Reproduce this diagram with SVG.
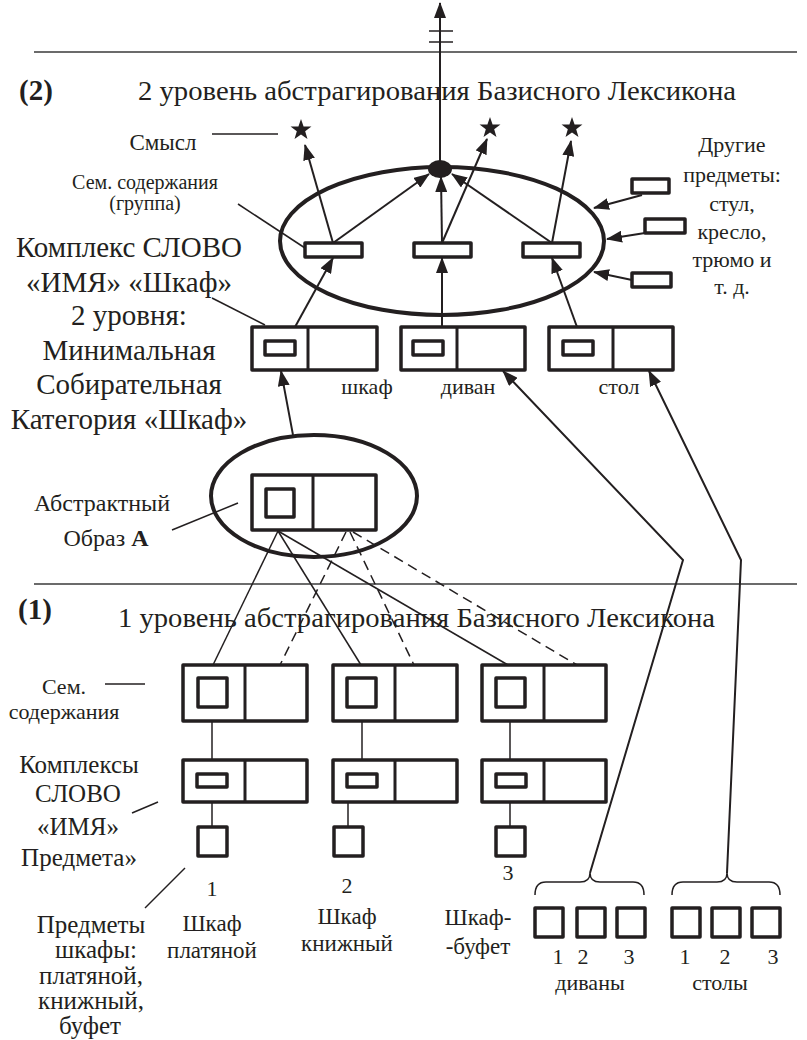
<svg xmlns="http://www.w3.org/2000/svg" width="807" height="1040" viewBox="0 0 807 1040">
<style>
text{font-family:"Liberation Serif","Times New Roman",serif;fill:#231f20}
.b{font-weight:bold}
.box{fill:#fff;stroke:#231f20;stroke-width:3.5;stroke-linejoin:round}
.sep{stroke:#231f20;stroke-width:3}
.ell{fill:none;stroke:#231f20;stroke-width:4}
.arr{fill:none;stroke:#231f20;stroke-width:2;marker-end:url(#ah)}
.thin{fill:none;stroke:#231f20;stroke-width:1.5}
.dash{fill:none;stroke:#231f20;stroke-width:1.5;stroke-dasharray:10 6}
.rule{stroke:#3a3a3a;stroke-width:1.3}
.mid{text-anchor:middle}
</style>
<defs>
<marker id="ah" markerUnits="userSpaceOnUse" markerWidth="16" markerHeight="12" refX="15" refY="6" orient="auto"><path d="M0,0 L16,6 L0,12 Z" fill="#231f20"/></marker>
<path id="star" d="M0,-11 L2.59,-3.56 L10.46,-3.4 L4.18,1.36 L6.47,8.9 L0,4.4 L-6.47,8.9 L-4.18,1.36 L-10.46,-3.4 L-2.59,-3.56 Z" fill="#231f20"/>
</defs>
<rect width="807" height="1040" fill="#fff"/>

<g id="rules">
<line class="rule" x1="34" y1="52" x2="797" y2="52"/>
<line class="rule" x1="34" y1="584" x2="797" y2="584"/>
<line x1="429" y1="31" x2="453" y2="31" stroke="#231f20" stroke-width="1.5"/>
<line x1="429" y1="42" x2="453" y2="42" stroke="#231f20" stroke-width="1.5"/>
</g>

<g id="titles">
<text class="b" x="19" y="100" font-size="29">(2)</text>
<text x="138" y="100" font-size="28" textLength="598" lengthAdjust="spacingAndGlyphs">2 уровень абстрагирования Базисного Лексикона</text>
<text class="b" x="18" y="619" font-size="29">(1)</text>
<text x="118" y="627" font-size="28" textLength="597" lengthAdjust="spacingAndGlyphs">1 уровень абстрагирования Базисного Лексикона</text>
</g>

<g id="level2-ellipse">
<ellipse class="ell" cx="442" cy="241" rx="162" ry="74"/>
<ellipse cx="440" cy="169" rx="12" ry="9" fill="#231f20"/>
<rect class="box" x="305" y="243" width="57" height="14"/>
<rect class="box" x="414" y="243" width="57" height="14"/>
<rect class="box" x="523" y="243" width="57" height="14"/>
</g>

<g id="stars">
<use href="#star" x="301" y="130"/>
<use href="#star" x="490" y="128"/>
<use href="#star" x="572" y="128"/>
</g>

<g id="other-objects">
<rect class="box" x="632" y="179" width="37" height="14"/>
<rect class="box" x="645" y="219" width="40" height="14"/>
<rect class="box" x="632" y="273" width="39" height="14"/>
<text class="mid" x="732" y="152" font-size="22">Другие</text>
<text class="mid" x="732" y="182" font-size="22">предметы:</text>
<text class="mid" x="732" y="211" font-size="22">стул,</text>
<text class="mid" x="732" y="239" font-size="22">кресло,</text>
<text class="mid" x="732" y="267" font-size="22">трюмо и</text>
<text class="mid" x="732" y="294" font-size="22">т. д.</text>
</g>

<g id="level2-boxes">
<rect class="box" x="252" y="327" width="125" height="43"/>
<line class="sep" x1="308" y1="327" x2="308" y2="370"/>
<rect class="box" x="265" y="341" width="30" height="14"/>
<rect class="box" x="401" y="327" width="124" height="43"/>
<line class="sep" x1="457" y1="327" x2="457" y2="370"/>
<rect class="box" x="413" y="341" width="30" height="14"/>
<rect class="box" x="549" y="327" width="124" height="43"/>
<line class="sep" x1="613" y1="327" x2="613" y2="370"/>
<rect class="box" x="563" y="341" width="30" height="14"/>
<text class="mid" x="367" y="394" font-size="22">шкаф</text>
<text class="mid" x="468" y="394" font-size="22">диван</text>
<text class="mid" x="619" y="394" font-size="22">стол</text>
</g>

<g id="abstract-image">
<ellipse class="ell" cx="314" cy="496" rx="103" ry="61"/>
<rect class="box" x="252" y="475" width="124" height="55"/>
<line class="sep" x1="313" y1="475" x2="313" y2="530"/>
<rect class="box" x="266" y="489" width="28" height="28"/>
</g>

<g id="level1-boxes">
<rect class="box" x="183" y="665" width="124" height="56"/>
<line class="sep" x1="245" y1="665" x2="245" y2="721"/>
<rect class="box" x="198" y="678" width="29" height="29"/>
<rect class="box" x="333" y="665" width="124" height="56"/>
<line class="sep" x1="395" y1="665" x2="395" y2="721"/>
<rect class="box" x="347" y="678" width="29" height="29"/>
<rect class="box" x="482" y="665" width="124" height="56"/>
<line class="sep" x1="544" y1="665" x2="544" y2="721"/>
<rect class="box" x="496" y="678" width="29" height="29"/>

<rect class="box" x="183" y="760" width="124" height="42"/>
<line class="sep" x1="245" y1="760" x2="245" y2="802"/>
<rect class="box" x="197" y="774" width="30" height="13"/>
<rect class="box" x="333" y="760" width="124" height="42"/>
<line class="sep" x1="395" y1="760" x2="395" y2="802"/>
<rect class="box" x="347" y="774" width="30" height="13"/>
<rect class="box" x="482" y="760" width="124" height="42"/>
<line class="sep" x1="544" y1="760" x2="544" y2="802"/>
<rect class="box" x="496" y="774" width="30" height="13"/>

<rect class="box" x="198" y="827" width="29" height="29"/>
<rect class="box" x="334" y="827" width="29" height="29"/>
<rect class="box" x="496" y="827" width="29" height="29"/>
</g>

<g id="object-groups">
<rect class="box" x="535" y="908" width="28" height="29"/>
<rect class="box" x="577" y="908" width="28" height="29"/>
<rect class="box" x="617" y="908" width="28" height="29"/>
<rect class="box" x="672" y="908" width="28" height="29"/>
<rect class="box" x="712" y="908" width="28" height="29"/>
<rect class="box" x="752" y="908" width="28" height="29"/>
<path class="thin" d="M535,895 Q535,882 546,882 L580,882 Q590,882 590,873 Q590,882 600,882 L633,882 Q644,882 644,895"/>
<path class="thin" d="M672,895 Q672,882 683,882 L717,882 Q727,882 727,873 Q727,882 737,882 L769,882 Q780,882 780,895"/>
</g>

<g id="connectors">
<line class="arr" x1="440" y1="162" x2="440" y2="3"/>
<line class="arr" x1="333" y1="243" x2="305" y2="145"/>
<line class="arr" x1="333" y1="243" x2="429" y2="174"/>
<line class="arr" x1="442" y1="243" x2="441" y2="177"/>
<line class="arr" x1="442" y1="243" x2="487" y2="139"/>
<line class="arr" x1="552" y1="243" x2="452" y2="174"/>
<line class="arr" x1="552" y1="243" x2="571" y2="141"/>
<line class="arr" x1="295" y1="327" x2="333" y2="258"/>
<line class="arr" x1="442" y1="327" x2="442" y2="258"/>
<line class="arr" x1="577" y1="327" x2="552" y2="258"/>
<line class="arr" x1="293" y1="435" x2="281" y2="371"/>
<line class="arr" x1="642" y1="195" x2="594" y2="208"/>
<line class="arr" x1="645" y1="233" x2="607" y2="239"/>
<line class="arr" x1="632" y1="280" x2="594" y2="272"/>
<path class="arr" d="M590,873 L683,560 L503,371"/>
<path class="arr" d="M727,873 L741,560 L649,371"/>
<line class="thin" x1="278" y1="531" x2="213" y2="665"/>
<line class="thin" x1="278" y1="531" x2="361" y2="665"/>
<line class="thin" x1="278" y1="531" x2="508" y2="665"/>
<line class="dash" x1="346" y1="532" x2="280" y2="665"/>
<line class="dash" x1="350" y1="532" x2="414" y2="665"/>
<line class="dash" x1="353" y1="532" x2="577" y2="665"/>
<line class="thin" x1="212" y1="721" x2="212" y2="760"/>
<line class="thin" x1="362" y1="721" x2="362" y2="760"/>
<line class="thin" x1="510" y1="721" x2="510" y2="760"/>
<line class="thin" x1="212" y1="802" x2="212" y2="827"/>
<line class="thin" x1="348" y1="802" x2="348" y2="827"/>
<line class="thin" x1="510" y1="802" x2="510" y2="827"/>
<line class="thin" x1="212" y1="134" x2="278" y2="134"/>
<line class="thin" x1="238" y1="204" x2="305" y2="248"/>
<line class="thin" x1="212" y1="298" x2="265" y2="325"/>
<line class="thin" x1="172" y1="530" x2="238" y2="503"/>
<line class="thin" x1="105" y1="684" x2="145" y2="684"/>
<line class="thin" x1="132" y1="813" x2="158" y2="802"/>
<line class="thin" x1="145" y1="908" x2="185" y2="868"/>
</g>

<g id="labels-left">
<text class="mid" x="163" y="150" font-size="23">Смысл</text>
<text class="mid" x="145" y="189" font-size="20">Сем. содержания</text>
<text class="mid" x="145" y="210" font-size="20">(группа)</text>
<text class="mid" x="129" y="257" font-size="29">Комплекс СЛОВО</text>
<text class="mid" x="129" y="292" font-size="29">«ИМЯ» «Шкаф»</text>
<text class="mid" x="129" y="325" font-size="29">2 уровня:</text>
<text class="mid" x="129" y="360" font-size="29">Минимальная</text>
<text class="mid" x="129" y="394" font-size="29">Собирательная</text>
<text class="mid" x="129" y="429" font-size="29">Категория «Шкаф»</text>
<text class="mid" x="102" y="511" font-size="24">Абстрактный</text>
<text class="mid" x="106" y="546" font-size="24">Образ <tspan class="b">А</tspan></text>
<text class="mid" x="64" y="694" font-size="22">Сем.</text>
<text class="mid" x="64" y="719" font-size="22">содержания</text>
<text class="mid" x="79" y="773" font-size="25">Комплексы</text>
<text class="mid" x="78" y="802" font-size="25">СЛОВО</text>
<text class="mid" x="78" y="835" font-size="25">«ИМЯ»</text>
<text class="mid" x="79" y="866" font-size="25">Предмета»</text>
<text class="mid" x="91" y="933" font-size="25">Предметы</text>
<text class="mid" x="96" y="958" font-size="25">шкафы:</text>
<text class="mid" x="91" y="984" font-size="25">платяной,</text>
<text class="mid" x="91" y="1009" font-size="25">книжный,</text>
<text class="mid" x="90" y="1034" font-size="25">буфет</text>
</g>

<g id="labels-bottom">
<text class="mid" x="212" y="896" font-size="22">1</text>
<text class="mid" x="347" y="893" font-size="22">2</text>
<text class="mid" x="508" y="880" font-size="22">3</text>
<text class="mid" x="212" y="931" font-size="23">Шкаф</text>
<text class="mid" x="212" y="958" font-size="23">платяной</text>
<text class="mid" x="347" y="924" font-size="23">Шкаф</text>
<text class="mid" x="347" y="951" font-size="23">книжный</text>
<text class="mid" x="478" y="925" font-size="23">Шкаф-</text>
<text class="mid" x="478" y="954" font-size="23">-буфет</text>
<text class="mid" x="558" y="964" font-size="22">1</text>
<text class="mid" x="583" y="964" font-size="22">2</text>
<text class="mid" x="629" y="964" font-size="22">3</text>
<text class="mid" x="685" y="964" font-size="22">1</text>
<text class="mid" x="725" y="964" font-size="22">2</text>
<text class="mid" x="773" y="964" font-size="22">3</text>
<text class="mid" x="590" y="990" font-size="22">диваны</text>
<text class="mid" x="720" y="990" font-size="22">столы</text>
</g>
</svg>
